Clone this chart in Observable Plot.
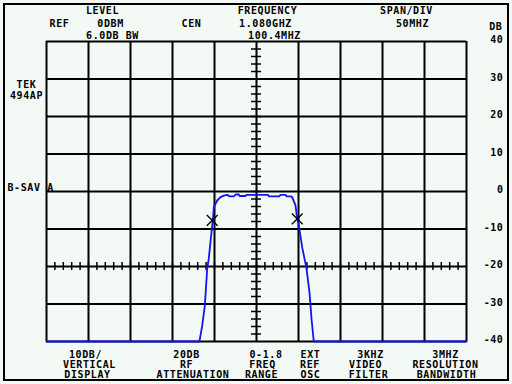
<!DOCTYPE html>
<html><head><meta charset="utf-8">
<script src="https://cdn.jsdelivr.net/npm/d3@7"></script>
<script src="https://cdn.jsdelivr.net/npm/@observablehq/plot@0.6"></script>
<style>
html,body{margin:0;padding:0;background:#f3f9f5;}
#wrap{position:relative;width:512px;height:384px;overflow:hidden;}
#border{position:absolute;left:3px;top:3px;width:506px;height:378px;box-sizing:border-box;border:2px solid #000;pointer-events:none;}
svg{display:block;}
</style></head><body>
<div id="wrap"><div id="border"></div></div>
<script>
// ---- data (MHz, dB) ----
const traceFreq = [830, 1012.1, 1015.4, 1018.5, 1021.3, 1023.2, 1025.2, 1027.3, 1028.2, 1029.2, 1031.2, 1033.2, 1037.1, 1041.1, 1045.1, 1048, 1053, 1055, 1059, 1060, 1066.9, 1068, 1093.5, 1095, 1107, 1108.6, 1114.5, 1116, 1120.5, 1122.5, 1126.4, 1128.5, 1130.4, 1134.4, 1139.5, 1143.1, 1145.5, 1148.2, 1330];
const traceDb   = [-40, -40, -35.7, -30.4, -20.6, -17.9, -13.5, -9.1, -7.0, -4.2, -3.3, -2.4, -1.5, -1.1, -0.9, -1.3, -1.3, -0.8, -0.8, -1.2, -1.2, -0.9, -0.9, -1.3, -1.3, -0.9, -0.9, -1.3, -1.3, -1.5, -3.7, -7.3, -9.1, -14.9, -20.5, -26.9, -34, -40, -40];
const markerFreq = [1027.3, 1128.5];
const markerDb = [-7.7, -7.3];
const gridFreq = [830, 880, 930, 980, 1030, 1080, 1130, 1180, 1230, 1280, 1330];
const gridDb = [-40, -30, -20, -10, 0, 10, 20, 30, 40];
const dbTickLabels = ["40", "30", "20", "10", "0", "-10", "-20", "-30", "-40"];
const centerFreq = 1080;
const refLineDb = -20;
const topTexts = ["LEVEL", "REF", "0DBM", "6.0DB BW", "CEN", "FREQUENCY", "1.080GHZ", "100.4MHZ", "SPAN/DIV", "50MHZ"];
const sideTexts = ["TEK", "494AP", "B-SAV A"];
const bottomTexts = ["10DB/", "VERTICAL", "DISPLAY", "20DB", "RF", "ATTENUATION", "0-1.8", "FREQ", "RANGE", "EXT", "REF", "OSC", "3KHZ", "VIDEO", "FILTER", "3MHZ", "RESOLUTION", "BANDWIDTH"];
const unitText = "DB";

// ---- layout ----
const W = 512, H = 384, ML = 46, MR = 46, MT = 41, MB = 43;
const font = {fontFamily: "'DejaVu Sans Mono', monospace", fontSize: 10, fontWeight: "bold", fill: "#000"};
const topPos = [[102,13],[59,26],[110,26],[112,38],[191,26],[267,13],[265,26],[274,38],[406,13],[412,26]];
const sidePos = [[26,87,"middle"],[26,98,"middle"],[7,190,"start"]];
const bottomPos = [[85,357],[89,367],[87,377],[186,357],[186,367],[192.5,377],[265.5,357],[262,367],[261,377],[310,357],[309.5,367],[310,377],[370,357],[365,367],[368,377],[445,357],[445,367],[446,377]];
function note(t, cx, by, anchor = "middle") {
  return Plot.text([t], {text: d => d, frameAnchor: "top-left", dx: cx - ML, dy: by - MT, textAnchor: anchor, lineAnchor: "bottom", ...font});
}

const trace = traceFreq.map((f, i) => ({f, db: traceDb[i]}));
const markers = markerFreq.map((f, i) => ({f, db: markerDb[i]}));
const minorFreq = d3.range(840, 1330, 10);
const minorDb = d3.range(-38, 40, 2);
const pxPerMHz = (W - ML - MR) / 500, pxPerDb = (H - MT - MB) / 80;

const chart = Plot.plot({
  width: W, height: H,
  marginLeft: ML, marginRight: MR, marginTop: MT, marginBottom: MB,
  x: {domain: [830, 1330], axis: null},
  y: {domain: [-40, 40], axis: null},
  style: {background: "#f3f9f5", fontFamily: "'DejaVu Sans Mono', monospace", fontSize: "10px", fontWeight: "bold", letterSpacing: "0.6px"},
  marks: [
    Plot.ruleX(gridFreq, {stroke: "#000", strokeWidth: 2}),
    Plot.ruleY(gridDb, {stroke: "#000", strokeWidth: 2}),
    Plot.ruleX(minorFreq, {x: d => d, y1: refLineDb - 4 / pxPerDb, y2: refLineDb + 4 / pxPerDb, stroke: "#000", strokeWidth: 1.5}),
    Plot.ruleY(minorDb, {y: d => d, x1: centerFreq - 5 / pxPerMHz, x2: centerFreq + 5 / pxPerMHz, stroke: "#000", strokeWidth: 1.5}),
    Plot.line(trace, {x: "f", y: "db", stroke: "#1414f0", strokeWidth: 1.8}),
    Plot.dot(markers, {x: "f", y: "db", symbol: "times", r: 5, stroke: "#000", strokeWidth: 1.3}),
    Plot.text(gridDb, {y: d => d, text: (d, i) => dbTickLabels[gridDb.length - 1 - i], frameAnchor: "right", dx: 37, dy: -1.5, textAnchor: "end", ...font}),
    note(unitText, 502, 29, "end"),
    ...topTexts.map((t, i) => note(t, topPos[i][0], topPos[i][1])),
    ...sideTexts.map((t, i) => note(t, sidePos[i][0], sidePos[i][1], sidePos[i][2])),
    ...bottomTexts.map((t, i) => note(t, bottomPos[i][0], bottomPos[i][1]))
  ]
});
document.getElementById("wrap").prepend(chart);
</script>
</body></html>
